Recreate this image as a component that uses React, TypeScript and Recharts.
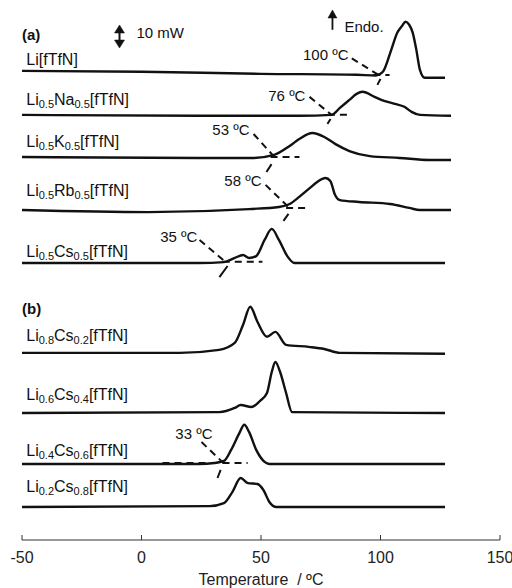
import React from 'react';
import { LineChart, Line, XAxis, YAxis, ReferenceLine, ReferenceDot } from 'recharts';

const FONT = '"Liberation Sans", Arial, sans-serif';
const INK = '#111';

// temperature axis
const tempTicks = [-50, 0, 50, 100, 150];

// sample names, subscripts written as _{..}
const curveNames = [
  'Li[fTfN]',
  'Li_{0.5}Na_{0.5}[fTfN]',
  'Li_{0.5}K_{0.5}[fTfN]',
  'Li_{0.5}Rb_{0.5}[fTfN]',
  'Li_{0.5}Cs_{0.5}[fTfN]',
  'Li_{0.8}Cs_{0.2}[fTfN]',
  'Li_{0.6}Cs_{0.4}[fTfN]',
  'Li_{0.4}Cs_{0.6}[fTfN]',
  'Li_{0.2}Cs_{0.8}[fTfN]',
];
// vertical stacking offset of each trace (mW)
const curveOffsets = [203.6, 184.5, 166.2, 143.2, 120.2, 81.2, 55.1, 33.0, 14.3];
// height of each name label (mW)
const nameLevels = [208.8, 191.4, 173.2, 151.9, 125.4, 89.0, 63.4, 39.1, 23.4];

// heat flow traces: temperature (ºC) and signal above own baseline (mW)
const liTemps = [-50, 0, 50, 90, 98, 101, 104.5, 107, 109, 110.5, 112, 113.5, 115, 116.5, 118.5, 127];
const liSignal = [0, -0.4, -1.3, -1.7, -2.0, -0.4, 9.1, 16.5, 19.5, 21.3, 20.0, 16.5, 9.1, 0.4, -3.0, -3.0];

const naTemps = [-50, 24, 66, 79.5, 83, 87, 90, 92.5, 97.5, 101.5, 106, 110, 113, 116.5, 129.5];
const naSignal = [0, -0.4, -0.4, 0, 3.0, 6.5, 9.1, 10.0, 7.8, 6.1, 4.8, 3.5, 1.3, 0, -0.4];

const kTemps = [-50, 24, 47, 55.5, 62, 66, 71.5, 76.5, 81, 87, 95.5, 108, 120.5, 129.5];
const kSignal = [0, -0.4, -0.4, 0.9, 4.8, 7.8, 10.4, 8.7, 5.7, 2.6, 0.4, -0.4, -1.3, -1.3];

const rbTemps = [-50, 3, 45, 57.5, 62, 66, 70.5, 73.5, 77, 79, 81, 83, 91, 104, 112, 116.5, 129.5];
const rbSignal = [0, -0.9, 0.4, 1.3, 2.6, 5.7, 9.6, 12.2, 13.9, 12.6, 6.5, 4.3, 3.5, 2.6, 0.9, 0, 0];

const cs05Temps = [-50, 24, 34.5, 39, 42.5, 45, 48, 51.5, 54.5, 57.5, 61, 64, 127];
const cs05Signal = [0, 0, 0.4, 2.2, 3.5, 2.2, 3.0, 10.0, 14.8, 10.0, 3.0, 0, 0];

const cs02Temps = [-50, 16, 32.5, 39, 42.5, 45.5, 48.5, 52.5, 56, 60.5, 70, 76.5, 83, 127];
const cs02Signal = [0, 0, 1.3, 4.3, 12.2, 20.0, 13.5, 7.0, 9.1, 3.5, 2.6, 1.7, 0, -0.4];

const cs04Temps = [-50, 32.5, 39, 41.5, 46, 49.5, 52.5, 54.5, 56, 58, 60.5, 63, 127];
const cs04Signal = [0, 0.4, 2.2, 3.5, 2.6, 5.2, 8.7, 17.8, 22.2, 17.8, 8.7, 0.4, 0];

const cs06Temps = [-50, 24, 30.5, 34.5, 37.5, 41, 43, 45, 48, 51.5, 53.5, 127];
const cs06Signal = [0, 0, 0.4, 1.3, 6.1, 13.5, 17.0, 13.9, 6.1, 0.9, 0, 0];

const cs08Temps = [-50, 28.5, 34.5, 38, 41.5, 44.5, 48.5, 51, 53.5, 56.5, 127];
const cs08Signal = [0, 0.4, 1.7, 6.5, 12.6, 10.4, 10.0, 7.4, 2.2, 0, 0];

const traceTemps = [liTemps, naTemps, kTemps, rbTemps, cs05Temps, cs02Temps, cs04Temps, cs06Temps, cs08Temps];
const traceSignals = [liSignal, naSignal, kSignal, rbSignal, cs05Signal, cs02Signal, cs04Signal, cs06Signal, cs08Signal];

// onset constructions
const onsetLabels = ['100 ºC', '76 ºC', '53 ºC', '58 ºC', '35 ºC', '33 ºC'];
const onsetLabelPos = [[86.6, 210.5], [68.6, 193.1], [45.2, 178.0], [50.2, 156.2], [23.4, 131.5], [29.7, 46.4]];
const onsetLeaderStart = [[88, 209], [70.3, 192.3], [46.9, 176.2], [51.9, 154.1], [24.3, 130.2], [25.1, 42.5]];
const onsetPoints = [[99.2, 201.8], [79.5, 184.5], [55.6, 166.2], [61.9, 144.1], [35.1, 120.7], [34.3, 33.4]];
const onsetBaseRange = [[97, 103.8], [78, 87.4], [54, 66.1], [60.5, 70.3], [34, 50.6], [8.8, 44.4]];
const onsetStub = [
  [[100, 200.1], [98.7, 197.5]],
  [[79.1, 182.7], [77.8, 180.6]],
  [[54.4, 163.1], [52.3, 159.7]],
  [[61.5, 141.5], [59.4, 138.5]],
  [[36, 118.9], [32.6, 114.1]],
  [[33.1, 30.4], [31.8, 26.9]],
];

const traces = traceTemps.map((temps, k) =>
  temps.map((t, i) => ({ t, v: curveOffsets[k] + traceSignals[k][i] }))
);

const SampleName = ({ x, y, name }: { x: number; y: number; name: string }) => {
  const bits = name.split(/_\{([^}]*)\}/);
  return (
    <text x={x} y={y} fill={INK} fontSize={16} fontFamily={FONT} dominantBaseline="central">
      {bits.map((b, i) =>
        i % 2 === 1 ? (
          <tspan key={i} fontSize={11} dy={5}>{b}</tspan>
        ) : (
          <tspan key={i} dy={i === 0 ? 0 : -5}>{b}</tspan>
        )
      )}
    </text>
  );
};

const dashed = { stroke: INK, strokeWidth: 2, strokeDasharray: '7 5', ifOverflow: 'visible' as const };

export default function App() {
  return (
    <div style={{ position: 'absolute', left: 0, top: 0, background: '#fff' }}>
      <LineChart width={512} height={588} margin={{ top: 10, right: 12, bottom: 0, left: 22 }}>
        <XAxis
          dataKey="t"
          type="number"
          domain={[-50, 150]}
          ticks={tempTicks}
          allowDataOverflow
          height={48}
          stroke="#333"
          tickSize={-5}
          tickMargin={17}
          tick={{ fill: '#222', fontSize: 16, fontFamily: FONT }}
          label={{ value: 'Temperature\u00a0 / ºC', position: 'insideBottom', offset: 3, fill: '#222', fontSize: 16, fontFamily: FONT }}
        />
        <YAxis hide type="number" domain={[0, 230]} allowDataOverflow />

        {traces.map((d, k) => (
          <Line
            key={curveNames[k]}
            data={d}
            dataKey="v"
            type="monotone"
            stroke={INK}
            strokeWidth={2.4}
            dot={false}
            isAnimationActive={false}
          />
        ))}

        {curveNames.map((n, k) => (
          <ReferenceDot
            key={'n' + k}
            x={-48.2}
            y={nameLevels[k]}
            r={0}
            ifOverflow="visible"
            shape={(p: any) => <SampleName x={p.cx} y={p.cy} name={n} />}
          />
        ))}

        {onsetLabels.map((lab, k) => (
          <React.Fragment key={'o' + k}>
            <ReferenceLine segment={[{ x: onsetLeaderStart[k][0], y: onsetLeaderStart[k][1] }, { x: onsetPoints[k][0], y: onsetPoints[k][1] }]} {...dashed} />
            <ReferenceLine segment={[{ x: onsetBaseRange[k][0], y: onsetPoints[k][1] }, { x: onsetBaseRange[k][1], y: onsetPoints[k][1] }]} {...dashed} />
            <ReferenceLine segment={[{ x: onsetStub[k][0][0], y: onsetStub[k][0][1] }, { x: onsetStub[k][1][0], y: onsetStub[k][1][1] }]} stroke={INK} strokeWidth={2} ifOverflow="visible" />
            <ReferenceDot
              x={onsetLabelPos[k][0]}
              y={onsetLabelPos[k][1]}
              r={0}
              ifOverflow="visible"
              shape={(p: any) => (
                <text x={p.cx} y={p.cy} textAnchor="end" dominantBaseline="central" fill={INK} fontSize={15} fontFamily={FONT}>{lab}</text>
              )}
            />
          </React.Fragment>
        ))}

        <ReferenceDot x={-50} y={219.2} r={0} ifOverflow="visible"
          shape={(p: any) => <text x={p.cx} y={p.cy} dominantBaseline="central" fill={INK} fontSize={15} fontWeight="bold" fontFamily={FONT}>(a)</text>} />
        <ReferenceDot x={-50} y={100.3} r={0} ifOverflow="visible"
          shape={(p: any) => <text x={p.cx} y={p.cy} dominantBaseline="central" fill={INK} fontSize={15} fontWeight="bold" fontFamily={FONT}>(b)</text>} />

        {/* 10 mW scale bar */}
        <ReferenceLine
          segment={[{ x: -9.2, y: 223.5 }, { x: -9.2, y: 213.5 }]}
          ifOverflow="visible"
          shape={(p: any) => (
            <g fill={INK} stroke={INK}>
              <line x1={p.x1} y1={p.y1 + 6} x2={p.x2} y2={p.y2 - 6} strokeWidth={2} />
              <path d={`M${p.x1 - 5},${p.y1 + 8} L${p.x1},${p.y1} L${p.x1 + 5},${p.y1 + 8} Z`} strokeWidth={0.5} />
              <path d={`M${p.x2 - 5},${p.y2 - 8} L${p.x2},${p.y2} L${p.x2 + 5},${p.y2 - 8} Z`} strokeWidth={0.5} />
            </g>
          )}
        />
        <ReferenceDot x={-2.1} y={220.1} r={0} ifOverflow="visible"
          shape={(p: any) => <text x={p.cx} y={p.cy} dominantBaseline="central" fill={INK} fontSize={15} fontFamily={FONT}>10 mW</text>} />

        {/* endotherm direction */}
        <ReferenceLine
          segment={[{ x: 79.9, y: 221.4 }, { x: 79.9, y: 230 }]}
          ifOverflow="visible"
          shape={(p: any) => (
            <g fill={INK} stroke={INK}>
              <line x1={p.x1} y1={p.y1} x2={p.x2} y2={p.y2 + 6} strokeWidth={1.8} />
              <path d={`M${p.x2 - 4.5},${p.y2 + 8} L${p.x2},${p.y2} L${p.x2 + 4.5},${p.y2 + 8} Z`} strokeWidth={0.5} />
            </g>
          )}
        />
        <ReferenceDot x={84.9} y={222.7} r={0} ifOverflow="visible"
          shape={(p: any) => <text x={p.cx} y={p.cy} dominantBaseline="central" fill={INK} fontSize={15} fontFamily={FONT}>Endo.</text>} />
      </LineChart>
    </div>
  );
}
